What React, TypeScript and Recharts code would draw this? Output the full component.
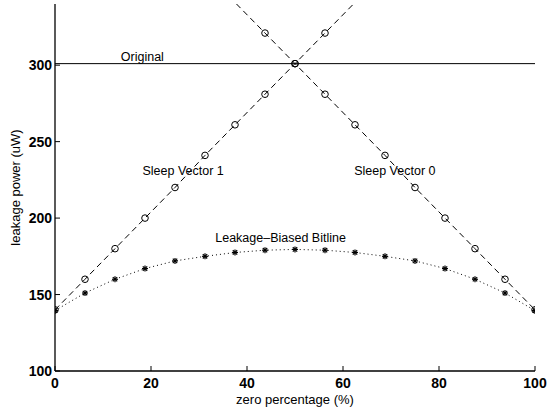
import React from 'react';
import {
  LineChart,
  Line,
  XAxis,
  YAxis,
  ReferenceLine,
  ReferenceDot,
} from 'recharts';

// zero percentage sample points (%)
const zeroPct = [0, 6.25, 12.5, 18.75, 25, 31.25, 37.5, 43.75, 50, 56.25, 62.5, 68.75, 75, 81.25, 87.5, 93.75, 100];

// leakage power (uW)
const sleepVector1 = [140, 160, 180, 200, 220, 241, 261, 281, 301, 321, 341, 361, 382, 402, 422, 442, 462];
const sleepVector0 = [462, 442, 422, 402, 382, 361, 341, 321, 301, 281, 261, 241, 220, 200, 180, 160, 140];
const bitline = [139.5, 151, 160, 167, 172, 175, 177.5, 179, 179.5, 179, 177.5, 175, 172, 167, 160, 151, 139.5];
const originalLevel = 301;

const xTicks = [0, 20, 40, 60, 80, 100];
const yTicks = [100, 150, 200, 250, 300];

const annotations = [
  { text: 'Original', x: 18.2, y: 305.5 },
  { text: 'Sleep Vector 1', x: 26.7, y: 231 },
  { text: 'Sleep Vector 0', x: 70.8, y: 231 },
  { text: 'Leakage\u2013Biased Bitline', x: 47, y: 187.5 },
];

const data = zeroPct.map((x, i) => ({
  x,
  sv1: sleepVector1[i],
  sv0: sleepVector0[i],
  bitline: bitline[i],
}));

const FONT = '"Liberation Sans", Arial, Helvetica, sans-serif';
const Y_MAX = 340;

// MATLAB-style ticks pointing into the plot box
const BottomTick = (props: any) => {
  const { x, y, payload } = props;
  return (
    <g>
      <line x1={x} y1={y} x2={x} y2={y - 5} stroke="#000" />
      <text x={x} y={y + 17} textAnchor="middle" fontFamily={FONT} fontWeight="bold" fontSize={14} fill="#000">
        {payload.value}
      </text>
    </g>
  );
};

const LeftTick = (props: any) => {
  const { x, y, payload } = props;
  return (
    <g>
      <line x1={x} y1={y} x2={x + 5} y2={y} stroke="#000" />
      <text x={x - 3} y={y + 5} textAnchor="end" fontFamily={FONT} fontWeight="bold" fontSize={14} fill="#000">
        {payload.value}
      </text>
    </g>
  );
};

const TopTick = (props: any) => {
  const { x, y } = props;
  return <line x1={x} y1={y} x2={x} y2={y + 5} stroke="#000" />;
};

const RightTick = (props: any) => {
  const { x, y } = props;
  return <line x1={x} y1={y} x2={x - 5} y2={y} stroke="#000" />;
};

const circleDot = (props: any) => {
  const { cx, cy, index, value } = props;
  if (value > Y_MAX || cx == null || cy == null) return <g key={index} />;
  return <circle key={index} cx={cx} cy={cy} r={3.3} fill="none" stroke="#000" strokeWidth={1} />;
};

const starDot = (props: any) => {
  const { cx, cy, index } = props;
  if (cx == null || cy == null) return <g key={index} />;
  const r = 3;
  const d = 2.2;
  return (
    <g key={index} stroke="#000" strokeWidth={1.2}>
      <line x1={cx - r} y1={cy} x2={cx + r} y2={cy} />
      <line x1={cx} y1={cy - r} x2={cx} y2={cy + r} />
      <line x1={cx - d} y1={cy - d} x2={cx + d} y2={cy + d} />
      <line x1={cx - d} y1={cy + d} x2={cx + d} y2={cy - d} />
    </g>
  );
};

export default function App() {
  return (
    <div style={{ position: 'absolute', left: 0, top: 0, background: '#fff' }}>
      <LineChart
        width={548}
        height={413}
        data={data}
        margin={{ top: 4, right: 13, bottom: 0, left: 0 }}
      >
        <XAxis
          dataKey="x"
          type="number"
          domain={[0, 100]}
          ticks={xTicks}
          allowDataOverflow
          height={42}
          stroke="#000"
          strokeWidth={1.3}
          tickSize={0}
          tickMargin={0}
          tickLine={false}
          tick={<BottomTick />}
          label={(p: any) => {
            const vb = p.viewBox;
            return (
              <text x={vb.x + vb.width / 2} y={vb.y + 33} textAnchor="middle" fontFamily={FONT} fontSize={13} fill="#000">
                zero percentage (%)
              </text>
            );
          }}
        />
        <XAxis
          xAxisId="top"
          orientation="top"
          dataKey="x"
          type="number"
          domain={[0, 100]}
          ticks={xTicks}
          height={0}
          stroke="#000"
          strokeWidth={1.3}
          tickSize={0}
          tickMargin={0}
          tickLine={false}
          tick={<TopTick />}
        />
        <YAxis
          type="number"
          domain={[100, Y_MAX]}
          ticks={yTicks}
          allowDataOverflow
          width={55}
          stroke="#000"
          strokeWidth={1.3}
          tickSize={0}
          tickMargin={0}
          tickLine={false}
          tick={<LeftTick />}
          label={(p: any) => {
            const vb = p.viewBox;
            const cx = vb.x + 15.5;
            const cy = vb.y + vb.height / 2;
            return (
              <text
                x={cx}
                y={cy}
                transform={`rotate(-90 ${cx} ${cy})`}
                textAnchor="middle"
                dominantBaseline="central"
                fontFamily={FONT}
                fontSize={13}
                fill="#000"
              >
                leakage power (uW)
              </text>
            );
          }}
        />
        <YAxis
          yAxisId="right"
          orientation="right"
          type="number"
          domain={[100, Y_MAX]}
          ticks={yTicks}
          allowDataOverflow
          width={0}
          stroke="#000"
          strokeWidth={1.3}
          tickSize={0}
          tickMargin={0}
          tickLine={false}
          tick={<RightTick />}
        />
        <ReferenceLine y={originalLevel} stroke="#000" strokeWidth={1} />
        <Line
          dataKey="sv1"
          type="linear"
          stroke="#000"
          strokeWidth={1}
          strokeDasharray="6 4"
          dot={circleDot}
          isAnimationActive={false}
        />
        <Line
          dataKey="sv0"
          type="linear"
          stroke="#000"
          strokeWidth={1}
          strokeDasharray="6 4"
          dot={circleDot}
          isAnimationActive={false}
        />
        <Line
          dataKey="bitline"
          type="linear"
          stroke="#000"
          strokeWidth={1}
          strokeDasharray="1 3"
          dot={starDot}
          isAnimationActive={false}
        />
        {annotations.map((a) => (
          <ReferenceDot
            key={a.text}
            x={a.x}
            y={a.y}
            r={0}
            fill="none"
            stroke="none"
            label={{ value: a.text, position: 'center', fontFamily: FONT, fontSize: 12.5, fill: '#000' }}
          />
        ))}
      </LineChart>
    </div>
  );
}
